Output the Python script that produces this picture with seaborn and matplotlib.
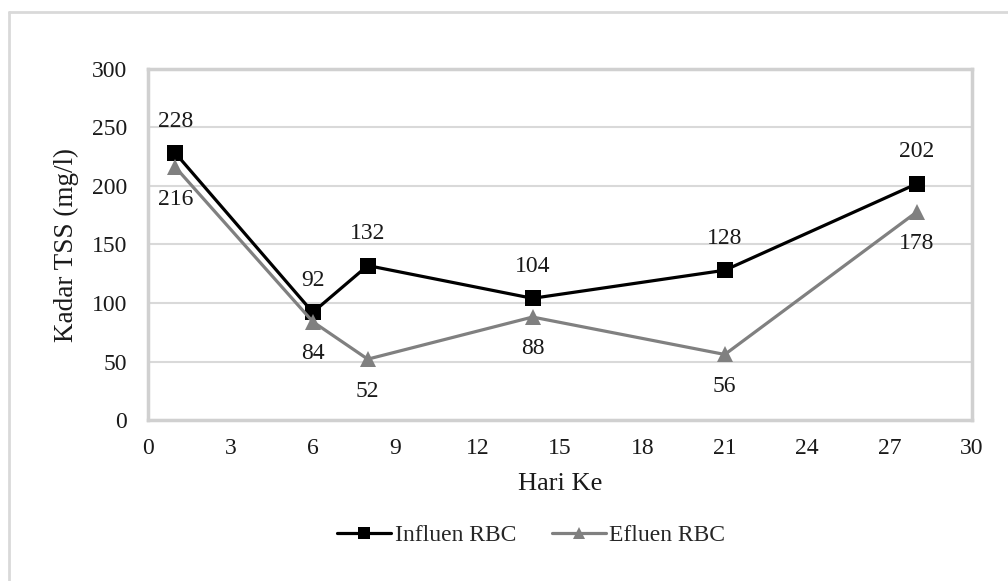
import matplotlib
matplotlib.use("Agg")
import matplotlib.pyplot as plt
import seaborn as sns
import pandas as pd
from matplotlib.lines import Line2D

days = [1, 6, 8, 14, 21, 28]
influen = [228, 92, 132, 104, 128, 202]
efluen = [216, 84, 52, 88, 56, 178]
series_names = ["Influen RBC", "Efluen RBC"]
x_ticks = [0, 3, 6, 9, 12, 15, 18, 21, 24, 27, 30]
y_ticks = [0, 50, 100, 150, 200, 250, 300]

sns.set_theme(style="white")
plt.rcParams['font.family'] = ['Liberation Serif', 'DejaVu Serif']

df = pd.DataFrame({
    "Hari": days + days,
    "TSS": influen + efluen,
    "Seri": [series_names[0]] * len(days) + [series_names[1]] * len(days),
})

fig = plt.figure(figsize=(10.08, 5.81), dpi=100)
ax = fig.add_axes([148/1008, 1 - 420/581, (972-148)/1008, (420-69)/581])

palette = {series_names[0]: "#000000", series_names[1]: "#808080"}
markers = {series_names[0]: "s", series_names[1]: "^"}
sns.lineplot(data=df, x="Hari", y="TSS", hue="Seri", style="Seri",
             palette=palette, markers=markers, dashes=False,
             markersize=11, linewidth=2.3, markeredgewidth=0,
             legend=False, ax=ax, zorder=3)

txt = "#1a1a1a"
fs = 17
ax.set_xlim(0, 30)
ax.set_ylim(0, 300)
ax.set_xticks(x_ticks)
ax.set_yticks(y_ticks)
ax.grid(axis="y", color="#d9d9d9", linewidth=1.5, zorder=0)
ax.grid(axis="x", visible=False)
for s in ax.spines.values():
    s.set_color("#d0d0d0")
    s.set_linewidth(2.5)
ax.tick_params(axis="both", length=0, labelsize=fs, colors=txt)
ax.tick_params(axis="y", pad=15)
ax.tick_params(axis="x", pad=13)
ax.set_xlabel("Hari Ke", fontsize=19, color=txt, labelpad=10)
ax.set_ylabel("Kadar TSS (mg/l)", fontsize=19.5, color=txt, labelpad=9)

for x, y in zip(days, influen):
    ax.annotate(str(y), (x, y), xytext=(0, 23), textcoords="offset points",
                ha="center", va="center", fontsize=fs, color=txt)
for x, y in zip(days, efluen):
    ax.annotate(str(y), (x, y), xytext=(0, -23), textcoords="offset points",
                ha="center", va="center", fontsize=fs, color=txt)

handles = [Line2D([0], [0], color=palette[n], marker=markers[n], markersize=9,
                  linewidth=2.3, markeredgewidth=0) for n in series_names]
fig.legend(handles, series_names, loc="center", bbox_to_anchor=(0.527, 1 - 535/581),
           ncol=2, frameon=False, fontsize=fs, handlelength=2.3,
           handletextpad=0.15, columnspacing=1.5)

# outer chart border
fig.add_artist(Line2D([9/1008, 9/1008], [0, 1 - 12/581], transform=fig.transFigure,
                      color="#d9d9d9", linewidth=2))
fig.add_artist(Line2D([9/1008, 1], [1 - 12/581, 1 - 12/581], transform=fig.transFigure,
                      color="#d9d9d9", linewidth=2))

fig.savefig("out.png", dpi=100)
